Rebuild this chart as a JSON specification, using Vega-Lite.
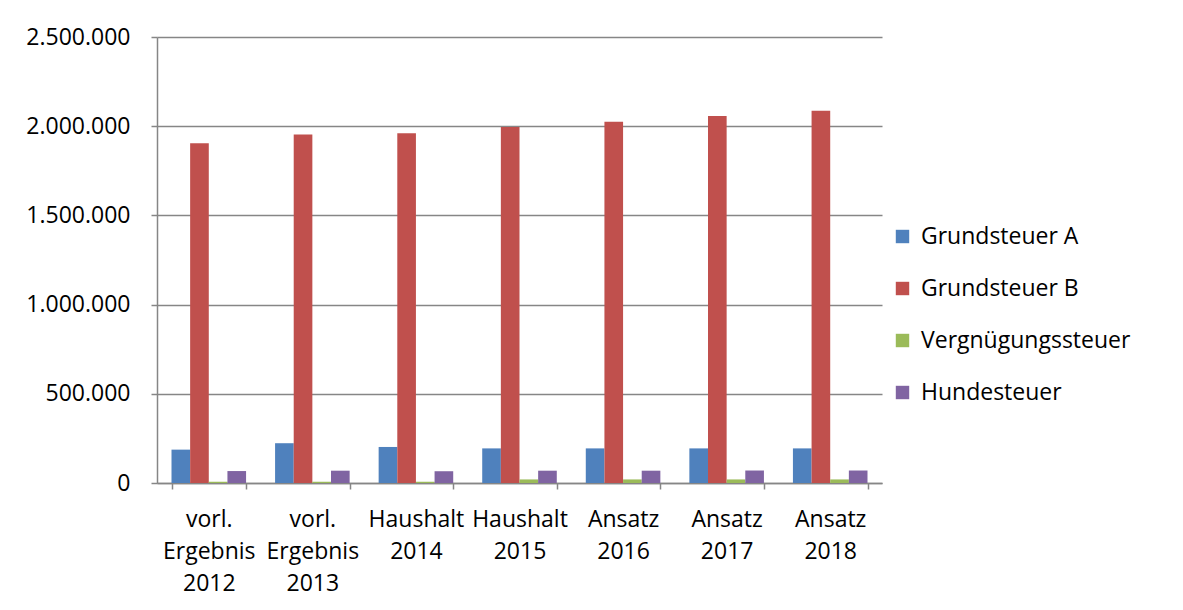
{
  "$schema": "https://vega.github.io/schema/vega-lite/v6.json",
  "autosize": "none",
  "width": 725,
  "height": 446,
  "padding": {"left": 157, "top": 37, "right": 301, "bottom": 127},
  "background": "white",
  "config": {
    "locale": {"number": {"decimal": ",", "thousands": ".", "grouping": [3], "currency": ["", " €"]}},
    "view": {"stroke": null},
    "font": "Open Sans",
    "axis": {"labelFont": "Open Sans", "labelColor": "#000000", "domainColor": "#868686", "tickColor": "#868686", "gridColor": "#868686", "domainWidth": 1.5, "tickWidth": 1.5, "gridWidth": 1.5}
  },
  "data": {
    "values": [
      {"kat": "vorl. Ergebnis 2012", "steuer": "Grundsteuer A", "wert": 187000},
      {"kat": "vorl. Ergebnis 2012", "steuer": "Grundsteuer B", "wert": 1905000},
      {"kat": "vorl. Ergebnis 2012", "steuer": "Vergnügungssteuer", "wert": 7000},
      {"kat": "vorl. Ergebnis 2012", "steuer": "Hundesteuer", "wert": 67000},
      {"kat": "vorl. Ergebnis 2013", "steuer": "Grundsteuer A", "wert": 223000},
      {"kat": "vorl. Ergebnis 2013", "steuer": "Grundsteuer B", "wert": 1953000},
      {"kat": "vorl. Ergebnis 2013", "steuer": "Vergnügungssteuer", "wert": 7000},
      {"kat": "vorl. Ergebnis 2013", "steuer": "Hundesteuer", "wert": 69000},
      {"kat": "Haushalt 2014", "steuer": "Grundsteuer A", "wert": 202000},
      {"kat": "Haushalt 2014", "steuer": "Grundsteuer B", "wert": 1960000},
      {"kat": "Haushalt 2014", "steuer": "Vergnügungssteuer", "wert": 7000},
      {"kat": "Haushalt 2014", "steuer": "Hundesteuer", "wert": 66000},
      {"kat": "Haushalt 2015", "steuer": "Grundsteuer A", "wert": 194000},
      {"kat": "Haushalt 2015", "steuer": "Grundsteuer B", "wert": 1996000},
      {"kat": "Haushalt 2015", "steuer": "Vergnügungssteuer", "wert": 20000},
      {"kat": "Haushalt 2015", "steuer": "Hundesteuer", "wert": 69000},
      {"kat": "Ansatz 2016", "steuer": "Grundsteuer A", "wert": 194000},
      {"kat": "Ansatz 2016", "steuer": "Grundsteuer B", "wert": 2025000},
      {"kat": "Ansatz 2016", "steuer": "Vergnügungssteuer", "wert": 20000},
      {"kat": "Ansatz 2016", "steuer": "Hundesteuer", "wert": 69000},
      {"kat": "Ansatz 2017", "steuer": "Grundsteuer A", "wert": 194000},
      {"kat": "Ansatz 2017", "steuer": "Grundsteuer B", "wert": 2057000},
      {"kat": "Ansatz 2017", "steuer": "Vergnügungssteuer", "wert": 20000},
      {"kat": "Ansatz 2017", "steuer": "Hundesteuer", "wert": 70000},
      {"kat": "Ansatz 2018", "steuer": "Grundsteuer A", "wert": 194000},
      {"kat": "Ansatz 2018", "steuer": "Grundsteuer B", "wert": 2087000},
      {"kat": "Ansatz 2018", "steuer": "Vergnügungssteuer", "wert": 20000},
      {"kat": "Ansatz 2018", "steuer": "Hundesteuer", "wert": 70000}
    ]
  },
  "mark": {"type": "bar"},
  "encoding": {
    "x": {
      "field": "kat", "type": "nominal", "sort": null,
      "scale": {"paddingInner": 0.28, "paddingOuter": 0.14},
      "axis": {
        "title": null, "labelAngle": 0, "tickBand": "extent", "tickSize": 6,
        "labelFontSize": 23, "labelLineHeight": 32, "labelPadding": 19,
        "labelBaseline": "top", "labelLimit": 0,
        "labelExpr": "split(datum.label, ' ')"
      }
    },
    "xOffset": {"field": "steuer", "type": "nominal", "sort": ["Grundsteuer A", "Grundsteuer B", "Vergnügungssteuer", "Hundesteuer"]},
    "y": {
      "field": "wert", "type": "quantitative",
      "scale": {"domain": [0, 2500000], "nice": false},
      "axis": {
        "title": null, "values": [0, 500000, 1000000, 1500000, 2000000, 2500000],
        "format": ",d", "tickSize": 6, "labelPadding": 21, "labelFontSize": 23, "grid": true
      }
    },
    "color": {
      "field": "steuer", "type": "nominal",
      "scale": {"domain": ["Grundsteuer A", "Grundsteuer B", "Vergnügungssteuer", "Hundesteuer"], "range": ["#4F81BD", "#C0504D", "#9BBB59", "#8064A2"]},
      "legend": {
        "title": null, "orient": "none", "legendX": 734, "legendY": 188,
        "symbolType": "square", "symbolSize": 180, "symbolStrokeWidth": 0,
        "labelFontSize": 23, "labelFont": "Open Sans", "labelColor": "#000000",
        "labelLimit": 0, "rowPadding": 28, "labelOffset": 7
      }
    }
  }
}
